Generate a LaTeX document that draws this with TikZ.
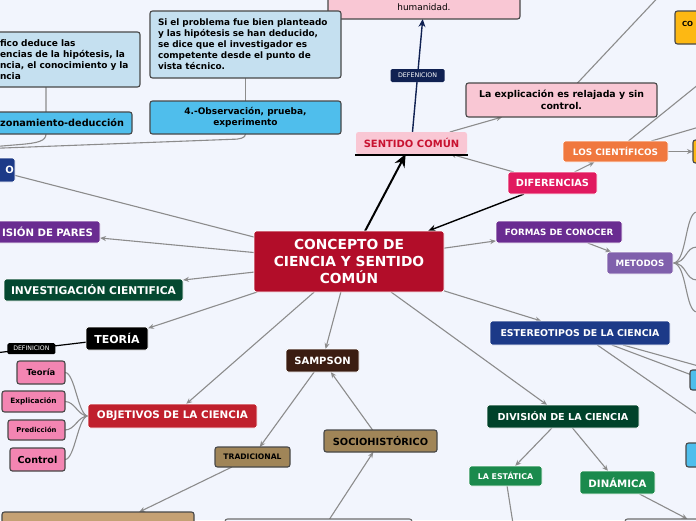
\documentclass[tikz,border=0pt]{standalone}
\usepackage{fontspec}
\setmainfont{DejaVu Sans}
\usetikzlibrary{arrows.meta,calc}
\pgfdeclarelayer{bg}
\pgfsetlayers{bg,main}
\definecolor{bgc}{RGB}{242,245,253}
\definecolor{linec}{RGB}{140,140,140}
\definecolor{bordc}{RGB}{72,72,72}
\definecolor{crim}{RGB}{178,13,41}
\definecolor{pinkc}{RGB}{249,199,212}
\definecolor{sentc}{RGB}{200,18,48}
\definecolor{lblue}{RGB}{197,224,240}
\definecolor{bblue}{RGB}{79,190,236}
\definecolor{difc}{RGB}{225,25,95}
\definecolor{orc}{RGB}{240,120,62}
\definecolor{yelc}{RGB}{253,184,19}
\definecolor{purc}{RGB}{106,44,145}
\definecolor{lpurc}{RGB}{128,96,172}
\definecolor{estc}{RGB}{28,58,136}
\definecolor{divc}{RGB}{0,66,42}
\definecolor{invc}{RGB}{4,72,48}
\definecolor{grnc}{RGB}{27,138,77}
\definecolor{objc}{RGB}{192,32,45}
\definecolor{pkc}{RGB}{243,133,178}
\definecolor{samc}{RGB}{59,29,18}
\definecolor{tanc}{RGB}{160,133,88}
\definecolor{ltanc}{RGB}{197,161,116}
\definecolor{navyc}{RGB}{16,33,82}
\newcommand\fsz[2]{\fontsize{#1}{#2}\selectfont}
\begin{document}
\begin{tikzpicture}[x=1pt,y=-1pt,
  base/.style={rectangle, rounded corners=2.5pt, inner sep=0pt, outer sep=0pt, align=center, font=\bfseries},
  solidnode/.style={base, draw=white, line width=0.7pt, text=white},
  boxed/.style={base, draw=bordc, line width=1.1pt, text=black},
  conn/.style={draw=linec, line width=1.1pt},
  arr/.style={conn, -{Stealth[length=6pt,width=5pt]}},
  blackarr/.style={draw=black, line width=2pt, -{Stealth[length=13pt,width=11pt]}},
  blackarrb/.style={draw=black, line width=1.4pt, -{Stealth[length=8pt,width=7pt]}},
  navyarr/.style={draw=navyc, line width=1.4pt, -{Stealth[length=8pt,width=7pt]}},
  deflab/.style={rectangle, rounded corners=1.5pt, inner sep=0pt, text=white},
]
\useasboundingbox (0,0) rectangle (696,520);

% ---------- nodes ----------
\node[solidnode, fill=crim, minimum width=190pt, minimum height=61pt, font=\bfseries\fsz{13.8}{17}] (c) at (349,261.5) {CONCEPTO DE\\CIENCIA Y SENTIDO\\COMÚN};

\node[base, fill=pinkc, text=sentc, minimum width=111pt, minimum height=22pt, font=\bfseries\fsz{10}{12}] (sent) at (411.5,143) {SENTIDO COMÚN};
\draw[line width=2pt] ($(sent.south west)+(-1,1)$) -- ($(sent.south east)+(1,1)$);

\node[boxed, fill=pinkc, anchor=south, minimum width=192pt, text height=13pt, text depth=2pt, inner ysep=7pt, font=\fsz{8.9}{10}] (hum) at (424,19) {humanidad.};

\node[boxed, fill=pinkc, minimum width=191pt, minimum height=34pt, font=\bfseries\fsz{9.4}{11.5}] (expl) at (561.5,100) {La explicación es relajada y sin\\control.};

\node[solidnode, fill=difc, minimum width=89pt, minimum height=22pt, font=\bfseries\fsz{9.8}{12}] (dif) at (552.5,183) {DIFERENCIAS};
\node[solidnode, fill=orc, minimum width=105pt, minimum height=21pt, font=\bfseries\fsz{8.9}{10}] (cien) at (615.5,151.5) {LOS CIENTÍFICOS};
\node[boxed, fill=yelc, anchor=north west, minimum width=40pt, text width=26pt, align=left, inner xsep=7pt, inner ysep=8pt, text height=7pt, text depth=10pt, font=\bfseries\fsz{7}{8}] (co) at (675,11) {CO};
\node[boxed, fill=yelc, minimum width=30pt, minimum height=23pt] (ory) at (708,151.5) {};

\node[solidnode, fill=purc, minimum width=126pt, minimum height=22pt, font=\bfseries\fsz{8.7}{10}] (form) at (559,232) {FORMAS DE CONOCER};
\node[solidnode, fill=lpurc, minimum width=66pt, minimum height=22pt, font=\bfseries\fsz{8.7}{10}] (met) at (640,263) {METODOS};

\node[solidnode, fill=estc, minimum width=180pt, minimum height=24pt, font=\bfseries\fsz{9.4}{11}] (est) at (580,333) {ESTEREOTIPOS DE LA CIENCIA};
\node[boxed, fill=bblue, minimum width=30pt, minimum height=20pt] (lbA) at (705,380) {};
\node[boxed, fill=bblue, minimum width=34pt, minimum height=24pt] (lbB) at (703,455) {};

\node[solidnode, fill=divc, minimum width=152pt, minimum height=23pt, font=\bfseries\fsz{9.6}{11}] (div) at (563,416.5) {DIVISIÓN DE LA CIENCIA};
\node[solidnode, fill=grnc, minimum width=73pt, minimum height=20pt, font=\bfseries\fsz{7.9}{9}] (esta) at (505.5,476) {LA ESTÁTICA};
\node[solidnode, fill=grnc, minimum width=75pt, minimum height=23pt, font=\bfseries\fsz{10.2}{12}] (din) at (617.5,482.5) {DINÁMICA};
\node[boxed, draw=bordc!80, fill=bgc, minimum width=190pt, minimum height=34pt] (br) at (720,536) {};

\node[solidnode, fill=estc, anchor=east, minimum height=24pt, text width=40pt, align=right, inner xsep=1pt, font=\bfseries\fsz{10}{12}] (onode) at (15,170) {O};
\node[solidnode, fill=purc, anchor=east, minimum height=22pt, text width=113pt, align=right, inner xsep=7pt, font=\bfseries\fsz{10.2}{12}] (rev) at (100,232) {ISIÓN DE PARES};
\node[solidnode, fill=invc, minimum width=179pt, minimum height=22pt, font=\bfseries\fsz{10.7}{12}] (inv) at (93.5,290) {INVESTIGACIÓN CIENTIFICA};
\node[solidnode, fill=black, minimum width=62pt, minimum height=23pt, font=\bfseries\fsz{11}{12}] (teo) at (117,338.5) {TEORÍA};
\node[solidnode, fill=objc, minimum width=169pt, minimum height=24pt, font=\bfseries\fsz{10.4}{12}] (obj) at (172.5,416) {OBJETIVOS DE LA CIENCIA};
\node[boxed, fill=pkc, minimum width=48pt, minimum height=23pt, font=\bfseries\fsz{8.4}{10}] (kA) at (41,372.5) {Teoría};
\node[boxed, fill=pkc, minimum width=63pt, minimum height=21pt, font=\bfseries\fsz{7.3}{9}] (kB) at (33.5,401.5) {Explicación};
\node[boxed, fill=pkc, minimum width=57pt, minimum height=20pt, font=\bfseries\fsz{6.8}{8}] (kC) at (36.5,430) {Predicción};
\node[boxed, fill=pkc, minimum width=55pt, minimum height=23pt, font=\bfseries\fsz{9.6}{11}] (kD) at (37.5,459.5) {Control};

\node[solidnode, fill=samc, minimum width=73pt, minimum height=23pt, font=\bfseries\fsz{10}{12}] (samp) at (322.5,360.5) {SAMPSON};
\node[boxed, fill=tanc, minimum width=75pt, minimum height=20pt, font=\bfseries\fsz{7.6}{9}] (trad) at (252.5,457) {TRADICIONAL};
\node[boxed, fill=tanc, minimum width=113pt, minimum height=22pt, font=\bfseries\fsz{9.8}{11}] (soc) at (380.5,441) {SOCIOHISTÓRICO};
\node[boxed, fill=ltanc, minimum width=192pt, minimum height=40pt] (bl) at (98,532) {};
\node[boxed, draw=bordc!80, fill=bgc, minimum width=187pt, minimum height=34pt] (bm) at (318.5,536) {};

\node[boxed, fill=lblue, minimum width=150pt, minimum height=55pt, text width=130pt, align=left, font=\bfseries\fsz{9}{11}] (tl) at (65,59.5) {fico deduce las\\encias de la hipótesis, la\\ncia, el conocimiento y la\\ncia};
\node[boxed, fill=bblue, anchor=east, minimum height=22pt, text width=144pt, align=right, inner xsep=8pt, font=\bfseries\fsz{9.7}{11}] (raz) at (132,123) {zonamiento-deducción};
\node[boxed, fill=lblue, minimum width=191pt, minimum height=67pt, text width=175pt, align=left, font=\bfseries\fsz{8.9}{11}] (si) at (245.5,44.5) {Si el problema fue bien planteado\\y las hipótesis se han deducido,\\se dice que el investigador es\\competente desde el punto de\\vista técnico.};
\node[boxed, fill=bblue, minimum width=191pt, minimum height=33pt, font=\bfseries\fsz{9}{11}] (obs) at (245.5,117.5) {4.-Observación, prueba,\\experimento};

% ---------- free ends ----------
\coordinate (offA) at (665,-10);
\coordinate (offB) at (720,67);
\coordinate (offC) at (730,118);
\coordinate (offD) at (720,372);
\coordinate (offE) at (720,430);
\coordinate (offF) at (514,530);
\coordinate (offG) at (-5,353);
\coordinate (offL) at (-10,147);
\coordinate (offM) at (-10,148.5);
\coordinate (mA) at (697,212);
\coordinate (mB) at (697,247);
\coordinate (mC) at (697,280);
\coordinate (mD) at (697,312);

% ---------- connectors ----------
\begin{pgfonlayer}{bg}
\fill[bgc] (0,0) rectangle (696,520);
\draw[conn] (c) -- (onode);
\draw[arr] (c) -- (rev);
\draw[arr] (c) -- (inv);
\draw[arr] (c) -- (teo);
\draw[arr] (c) -- (obj);
\draw[arr] (c) -- (samp);
\draw[arr] (c) -- (div);
\draw[arr] (c) -- (est);
\draw[arr] (c) -- (form);
\draw[blackarr] (c) -- (sent);
\draw[blackarrb] (dif) -- (c);
\draw[arr] (dif) -- (sent);
\draw[arr] (dif) -- (cien);
\draw[arr] (sent) -- (expl);
\draw[navyarr] (sent) -- node[deflab, fill=navyc, minimum width=54pt, minimum height=13pt, font=\fsz{6.3}{7}, pos=0.5] (dlab) {DEFENICION} (hum);
\draw[conn] (expl) -- (offA);
\draw[conn] (cien) -- (offB);
\draw[conn] (cien) -- (offC);
\draw[arr] (cien) -- (ory);
\draw[arr] (form) -- (met);
\draw[conn] (met.east) .. controls +(14,0) and +(-12,0) .. (mA);
\draw[conn] (met.east) .. controls +(14,0) and +(-12,0) .. (mB);
\draw[conn] (met.east) .. controls +(14,0) and +(-12,0) .. (mC);
\draw[conn] (met.east) .. controls +(14,0) and +(-12,0) .. (mD);
\draw[conn] (est) -- (lbA);
\draw[conn] (est) -- (offD);
\draw[conn] (est) -- (offE);
\draw[arr] (div) -- (esta);
\draw[arr] (div) -- (din);
\draw[conn] (esta) -- (offF);
\draw[arr] (din) -- (br);
\draw[arr] (samp) -- (trad);
\draw[arr] (soc) -- (samp);
\draw[arr] (trad) -- (bl);
\draw[arr] (bm) -- (soc);
\draw[conn] (si) -- (obs);
\draw[draw=black, line width=1.2pt] (teo) -- node[deflab, fill=black, minimum width=48pt, minimum height=11pt, font=\fsz{6.2}{7}, pos=0.6] (dlabb) {DEFINICION} (offG);
\draw[conn] (obj.west) .. controls +(-10,0) and +(10,0) .. (kA.east);
\draw[conn] (obj.west) .. controls +(-10,0) and +(10,0) .. (kB.east);
\draw[conn] (obj.west) .. controls +(-10,0) and +(10,0) .. (kC.east);
\draw[conn] (obj.west) .. controls +(-10,0) and +(10,0) .. (kD.east);
\draw[conn] ($(tl.south west)+(56,0)$) -- (46,134) .. controls (46,141) and (38,143) .. (20,144.5) -- (offL);
\draw[conn] (obs.south) .. controls +(0,4) and +(8,0) .. (232,139.3) -- (offM);
\end{pgfonlayer}
\end{tikzpicture}
\end{document}
